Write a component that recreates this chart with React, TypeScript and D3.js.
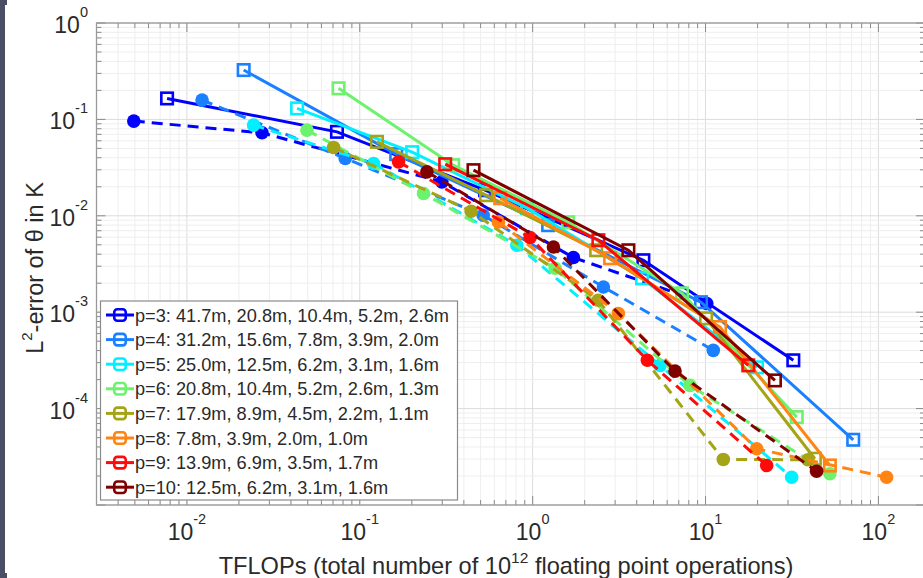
import React from 'react';
import * as d3 from 'd3';

const W = 923;
const H = 578;

const orders = [3, 4, 5, 6, 7, 8, 9, 10];
const colors = ['#0000ff', '#1a80ff', '#00f0ff', '#6cf26c', '#a4a416', '#ff8414', '#ff0a0a', '#800000'];
const legendLabels = [
  'p=3: 41.7m, 20.8m, 10.4m, 5.2m, 2.6m',
  'p=4: 31.2m, 15.6m, 7.8m, 3.9m, 2.0m',
  'p=5: 25.0m, 12.5m, 6.2m, 3.1m, 1.6m',
  'p=6: 20.8m, 10.4m, 5.2m, 2.6m, 1.3m',
  'p=7: 17.9m, 8.9m, 4.5m, 2.2m, 1.1m',
  'p=8: 7.8m, 3.9m, 2.0m, 1.0m',
  'p=9: 13.9m, 6.9m, 3.5m, 1.7m',
  'p=10: 12.5m, 6.2m, 3.1m, 1.6m',
];

// solid lines, open squares
const squareTflops = [
  [0.00768, 0.0738, 0.531, 4.37, 32.2],
  [0.0213, 0.1625, 1.229, 9.42, 71.5],
  [0.0434, 0.2011, 0.929, 4.295, 19.85],
  [0.0754, 0.347, 1.604, 7.31, 33.7],
  [0.1257, 0.538, 2.33, 10.07, 42.9],
  [0.649, 2.806, 12.13, 52.4],
  [0.312, 2.4, 17.68],
  [0.4548, 3.58, 25.2],
];
const squareError = [
  [0.165, 0.0743, 0.01845, 0.00346, 3.17e-4],
  [0.325, 0.0436, 0.00799, 0.00127, 4.75e-5],
  [0.13, 0.0457, 0.012, 0.00225, 2.68e-4],
  [0.21, 0.0335, 0.00858, 0.00157, 8.16e-5],
  [0.0585, 0.01636, 0.00439, 8.64e-4, 3.02e-5],
  [0.01524, 0.00363, 7.02e-4, 2.57e-5],
  [0.0343, 0.00558, 2.81e-4],
  [0.02975, 0.00439, 1.96e-4],
];

// dashed lines, filled circles
const circleTflops = [
  [0.00493, 0.0272, 0.2986, 1.72, 10.16],
  [0.01224, 0.0824, 0.5175, 2.566, 11.09],
  [0.0243, 0.1202, 0.81, 5.46, 31.5],
  [0.0495, 0.2337, 1.349, 8.13, 52.4],
  [0.0706, 0.441, 2.391, 12.67, 39.1],
  [0.634, 3.133, 19.77, 111.5],
  [0.1676, 0.967, 4.61, 22.58],
  [0.2445, 1.319, 6.66, 43.9],
];
const circleError = [
  [0.096, 0.0726, 0.0225, 0.00369, 0.00123],
  [0.1586, 0.0394, 0.01014, 0.001827, 4.02e-4],
  [0.0873, 0.0349, 0.00495, 2.81e-4, 1.94e-5],
  [0.0774, 0.01705, 0.002857, 1.74e-4, 2.11e-5],
  [0.0512, 0.01116, 0.00133, 2.97e-5, 2.95e-5],
  [0.00864, 9.67e-4, 3.83e-5, 1.94e-5],
  [0.0363, 0.00595, 3.17e-4, 2.57e-5],
  [0.02857, 0.00475, 2.45e-4, 2.24e-5],
];

const xTickExps = [-2, -1, 0, 1, 2];
const yTickExps = [0, -1, -2, -3, -4];

const FONT = '"Liberation Sans", Arial, Helvetica, sans-serif';
const TXT = '#2a2a2a';

export default function App() {
  const x = d3.scaleLog().domain([0.003, 186]).range([96.5, 925]);
  const y = d3.scaleLog().domain([1e-5, 1]).range([505, 23]);
  const [x0, x1] = x.range();
  const [yb, yt] = y.range();

  const xMinor: number[] = [];
  for (let e = -3; e <= 2; e++) for (let m = 1; m <= 9; m++) {
    const v = m * Math.pow(10, e);
    if (v >= 0.003 && v <= 186) xMinor.push(v);
  }
  const yMinor: number[] = [];
  for (let e = -5; e <= 0; e++) for (let m = 1; m <= 9; m++) {
    const v = m * Math.pow(10, e);
    if (v >= 1e-5 && v <= 1) yMinor.push(v);
  }
  const isMajor = (v: number) => Math.abs(Math.log10(v) - Math.round(Math.log10(v))) < 1e-9;

  const line = d3.line<[number, number]>().x(d => x(d[0])).y(d => y(d[1]));

  const sq = 11.5;
  const legendTop = 301;
  const legendRow = 24.6;
  const legendFirst = 315;

  return (
    <svg width={W} height={H} style={{ position: 'absolute', left: 0, top: 0, display: 'block', background: '#fff' }}>
      <rect x={0} y={0} width={W} height={H} fill="#fff" />
      {/* grid */}
      <g>
        {xMinor.map((v, i) => (
          <line key={'gx' + i} x1={x(v)} x2={x(v)} y1={yt} y2={yb} stroke={isMajor(v) ? '#dcdcdc' : '#eeeeee'} strokeWidth={1} />
        ))}
        {yMinor.map((v, i) => (
          <line key={'gy' + i} x1={x0} x2={x1} y1={y(v)} y2={y(v)} stroke={isMajor(v) ? '#dcdcdc' : '#eeeeee'} strokeWidth={1} />
        ))}
      </g>
      {/* ticks */}
      <g stroke="#8a8a8a" strokeWidth={1}>
        {xMinor.map((v, i) => {
          const L = isMajor(v) ? 9 : 5;
          return (
            <g key={'tx' + i}>
              <line x1={x(v)} x2={x(v)} y1={yb} y2={yb - L} />
              <line x1={x(v)} x2={x(v)} y1={yt} y2={yt + L} />
            </g>
          );
        })}
        {yMinor.map((v, i) => {
          const L = isMajor(v) ? 9 : 5;
          return (
            <g key={'ty' + i}>
              <line x1={x0} x2={x0 + L} y1={y(v)} y2={y(v)} />
              <line x1={x1} x2={x1 - L} y1={y(v)} y2={y(v)} />
            </g>
          );
        })}
      </g>
      <rect x={x0} y={yt} width={x1 - x0} height={yb - yt} fill="none" stroke="#999" strokeWidth={1.3} />

      {/* data */}
      <g>
        {orders.map((p, k) => {
          const sPts = squareTflops[k].map((v, i) => [v, squareError[k][i]] as [number, number]);
          const cPts = circleTflops[k].map((v, i) => [v, circleError[k][i]] as [number, number]);
          return (
            <g key={'s' + p}>
              <path d={line(sPts) || ''} fill="none" stroke={colors[k]} strokeWidth={3} />
              {sPts.map((d, i) => (
                <rect key={i} x={x(d[0]) - sq / 2} y={y(d[1]) - sq / 2} width={sq} height={sq} fill="none" stroke={colors[k]} strokeWidth={2.6} />
              ))}
              <path d={line(cPts) || ''} fill="none" stroke={colors[k]} strokeWidth={3} strokeDasharray="11,7" />
              {cPts.map((d, i) => (
                <circle key={i} cx={x(d[0])} cy={y(d[1])} r={6.8} fill={colors[k]} stroke="none" />
              ))}
            </g>
          );
        })}
      </g>

      {/* legend */}
      <rect x={100.5} y={legendTop} width={357} height={199} fill="#fff" stroke="#8a8a8a" strokeWidth={1.2} />
      {orders.map((p, k) => {
        const cy = legendFirst + k * legendRow;
        return (
          <g key={'lg' + p}>
            <line x1={106} x2={134} y1={cy} y2={cy} stroke={colors[k]} strokeWidth={3} />
            <rect x={120 - sq / 2} y={cy - sq / 2} width={sq} height={sq} rx={3} fill="none" stroke={colors[k]} strokeWidth={2.6} />
            <text x={135} y={cy + 6.5} fontFamily={FONT} fontSize={18.2} fill={TXT}>{legendLabels[k]}</text>
          </g>
        );
      })}

      {/* x tick labels */}
      {xTickExps.map(e => (
        <text key={'xl' + e} x={x(Math.pow(10, e))} y={540} textAnchor="middle" fontFamily={FONT} fontSize={23} fill={TXT}>
          10<tspan fontSize={14.5} dy={-16}>{e}</tspan>
        </text>
      ))}
      {/* y tick labels */}
      {yTickExps.map(e => (
        <text key={'yl' + e} x={88} y={y(Math.pow(10, e)) + 10} textAnchor="end" fontFamily={FONT} fontSize={23} fill={TXT}>
          10<tspan fontSize={14.5} dy={-16}>{e}</tspan>
        </text>
      ))}

      {/* axis titles */}
      <text x={506} y={574} textAnchor="middle" fontFamily={FONT} fontSize={23.6} fill={TXT}>
        TFLOPs (total number of 10<tspan fontSize={15.5} dy={-11}>12</tspan><tspan dy={11}> floating point operations)</tspan>
      </text>
      <text transform="translate(43,268) rotate(-90)" textAnchor="middle" fontFamily={FONT} fontSize={23.5} fill={TXT}>
        L<tspan fontSize={15} dy={-11}>2</tspan><tspan dy={11}>-error of θ in K</tspan>
      </text>

      {/* dark page frame at the left */}
      <rect x={0} y={0} width={5} height={H} fill="#494e64" />
      <rect x={0} y={0} width={7} height={5} fill="#494e64" />
      <rect x={0} y={573} width={7} height={5} fill="#494e64" />
    </svg>
  );
}
